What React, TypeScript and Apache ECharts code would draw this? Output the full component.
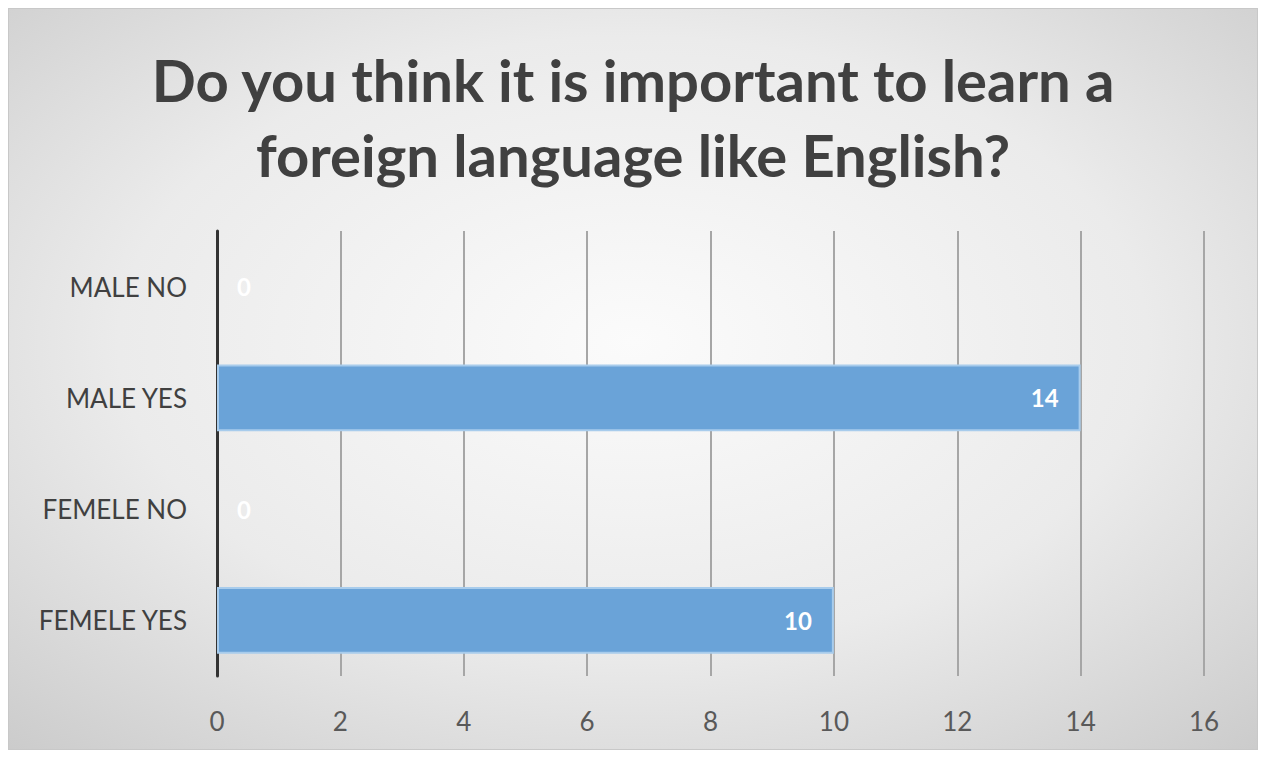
import React, { useEffect, useRef } from "react";
import * as echarts from "echarts";

const titleText = "Do you think it is important to learn a\nforeign language like English?";
const categories = ["FEMELE YES", "FEMELE NO", "MALE YES", "MALE NO"];
const values = [10, 0, 14, 0];
const xMin = 0;
const xMax = 16;
const xInterval = 2;

export default function App() {
  const ref = useRef<HTMLDivElement>(null);
  useEffect(() => {
    if (!ref.current) return;
    const chart = echarts.init(ref.current, null, { renderer: "svg" });
    chart.setOption({
      animation: false,
      backgroundColor: {
        type: "radial",
        x: 0.5,
        y: 0.45,
        r: 0.75,
        colorStops: [
          { offset: 0, color: "#fbfbfb" },
          { offset: 0.55, color: "#ebebeb" },
          { offset: 1, color: "#cbcbcb" },
        ],
      },
      title: {
        text: titleText,
        left: "center",
        top: 28,
        textStyle: {
          fontFamily: "Lato",
          fontWeight: "bold",
          fontSize: 58,
          lineHeight: 75,
          color: "#404040",
        },
      },
      grid: { left: 208, right: 53, top: 222, height: 445, containLabel: false },
      xAxis: {
        type: "value",
        min: xMin,
        max: xMax,
        interval: xInterval,
        axisLine: { show: false },
        axisTick: { show: false },
        axisLabel: {
          fontFamily: "Lato",
          fontSize: 26,
          color: "#595959",
          margin: 32,
        },
        splitLine: { show: true, lineStyle: { color: "#a6a6a6", width: 2 } },
      },
      yAxis: {
        type: "category",
        data: categories,
        axisLine: { show: true, lineStyle: { color: "#333333", width: 3 } },
        axisTick: { show: false },
        axisLabel: {
          fontFamily: "Lato",
          fontSize: 26,
          color: "#404040",
          margin: 30,
        },
      },
      series: [
        {
          type: "bar",
          data: values.map((v) => ({
            value: v,
            itemStyle: v === 0 ? { borderWidth: 0 } : undefined,
            label: v === 0
              ? { position: "right", distance: 20 }
              : { position: "insideRight", distance: 22 },
          })),
          barCategoryGap: "40%",
          itemStyle: { color: "#6aa3d8", borderColor: "#a8ccec", borderWidth: 2 },
          label: {
            show: true,
            color: "#ffffff",
            fontFamily: "Lato",
            fontWeight: "bold",
            fontSize: 24,
          },
        },
      ],
    });
    return () => chart.dispose();
  }, []);
  return (
    <div
      ref={ref}
      style={{ width: 1250, height: 742, border: "1px solid #c8c8c8", boxSizing: "border-box" }}
    />
  );
}
